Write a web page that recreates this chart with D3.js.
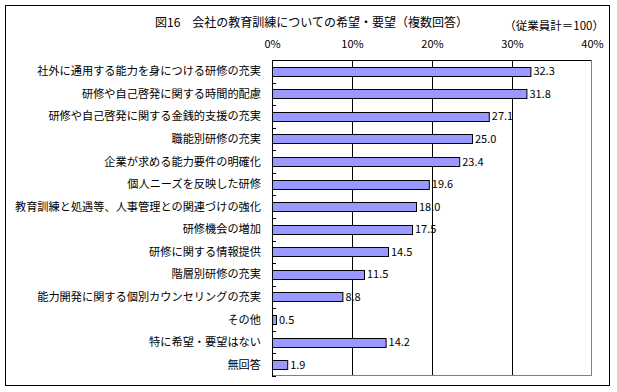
<!DOCTYPE html>
<html>
<head>
<meta charset="utf-8">
<script src="https://cdn.jsdelivr.net/npm/d3@7"></script>
<style>
  body { margin: 0; background: #fff; }
  text { font-family: "Noto Sans CJK JP", sans-serif; fill: #000; }
</style>
</head>
<body>
<div id="chart"></div>
<script>
// chart data
var categories = [
    "社外に通用する能力を身につける研修の充実",
    "研修や自己啓発に関する時間的配慮",
    "研修や自己啓発に関する金銭的支援の充実",
    "職能別研修の充実",
    "企業が求める能力要件の明確化",
    "個人ニーズを反映した研修",
    "教育訓練と処遇等、人事管理との関連づけの強化",
    "研修機会の増加",
    "研修に関する情報提供",
    "階層別研修の充実",
    "能力開発に関する個別カウンセリングの充実",
    "その他",
    "特に希望・要望はない",
    "無回答"
];
var values = [32.3, 31.8, 27.1, 25.0, 23.4, 19.6, 18.0, 17.5, 14.5, 11.5, 8.8, 0.5, 14.2, 1.9];
var tickValues = [0, 10, 20, 30, 40];
var title = "図16　会社の教育訓練についての希望・要望（複数回答）";
var note = "（従業員計＝100）";

function main() {
    var W = 617, H = 392;
    var margin = {top: 60, right: 25, bottom: 16, left: 272},
        width = 592 - margin.left,
        height = 376 - margin.top;

    var svg = d3.select("#chart").append("svg")
        .attr("width", W)
        .attr("height", H);

    // outer frame
    svg.append("rect")
        .attr("x", 5.5).attr("y", 5.5)
        .attr("width", 604).attr("height", 380)
        .attr("fill", "none").attr("stroke", "#000").attr("stroke-width", 1);

    svg.append("text")
        .attr("x", 155).attr("y", 27)
        .attr("font-size", "12px")
        .text(title);

    svg.append("text")
        .attr("x", 604).attr("y", 30)
        .attr("text-anchor", "end")
        .attr("font-size", "11.5px")
        .text(note);

    var g = svg.append("g")
        .attr("transform", "translate(" + margin.left + "," + margin.top + ")");

    var x = d3.scaleLinear().domain([0, 40]).range([0, width]);
    var y = d3.scaleBand().domain(categories).range([0, height]).paddingInner(0.6).paddingOuter(0.3);

    // gridlines
    g.selectAll(".grid")
        .data([10, 20, 30])
        .join("line")
        .attr("x1", d => Math.round(x(d)) + 0.5)
        .attr("x2", d => Math.round(x(d)) + 0.5)
        .attr("y1", 0).attr("y2", height)
        .attr("stroke", "#000");

    // plot border: top black, right/bottom gray
    g.append("line").attr("x1", 0).attr("x2", width).attr("y1", 0.5).attr("y2", 0.5).attr("stroke", "#000");
    g.append("line").attr("x1", width - 0.5).attr("x2", width - 0.5).attr("y1", 0).attr("y2", height).attr("stroke", "#808080");
    g.append("line").attr("x1", 0).attr("x2", width).attr("y1", height - 0.5).attr("y2", height - 0.5).attr("stroke", "#808080");

    // top axis labels
    var xAxis = g.append("g")
        .call(d3.axisTop(x).tickValues(tickValues).tickSize(0).tickPadding(12).tickFormat(d => d + "%"));
    xAxis.select(".domain").remove();
    xAxis.selectAll("text")
        .attr("font-family", "\"Noto Sans CJK JP\", sans-serif")
        .attr("font-size", "11px");

    // bars
    g.selectAll(".bar")
        .data(values)
        .join("rect")
        .attr("x", x(0) + 0.5)
        .attr("y", (d, i) => Math.round(y(categories[i])) + 0.5)
        .attr("width", d => x(d))
        .attr("height", Math.round(y.bandwidth()))
        .attr("fill", "#9999ff")
        .attr("stroke", "#000");

    // value labels
    g.selectAll(".val")
        .data(values)
        .join("text")
        .attr("x", d => x(d) + 3)
        .attr("y", (d, i) => y(categories[i]) + y.bandwidth() / 2)
        .attr("dy", "0.36em")
        .attr("font-size", "11px")
        .text(d => d.toFixed(1));

    // left axis with inner tick marks at band edges
    var step = height / categories.length;
    g.append("line").attr("x1", 0.5).attr("x2", 0.5).attr("y1", 0).attr("y2", height).attr("stroke", "#000");
    g.selectAll(".tk")
        .data(d3.range(categories.length + 1))
        .join("line")
        .attr("x1", 0).attr("x2", 4)
        .attr("y1", i => Math.round(i * step) + 0.5)
        .attr("y2", i => Math.round(i * step) + 0.5)
        .attr("stroke", "#000");

    // category labels
    g.selectAll(".cat")
        .data(categories)
        .join("text")
        .attr("x", -11)
        .attr("y", d => y(d) + y.bandwidth() / 2)
        .attr("dy", "0.36em")
        .attr("text-anchor", "end")
        .attr("font-size", "11.2px")
        .text(d => d);
}

main()
</script>
</body>
</html>
